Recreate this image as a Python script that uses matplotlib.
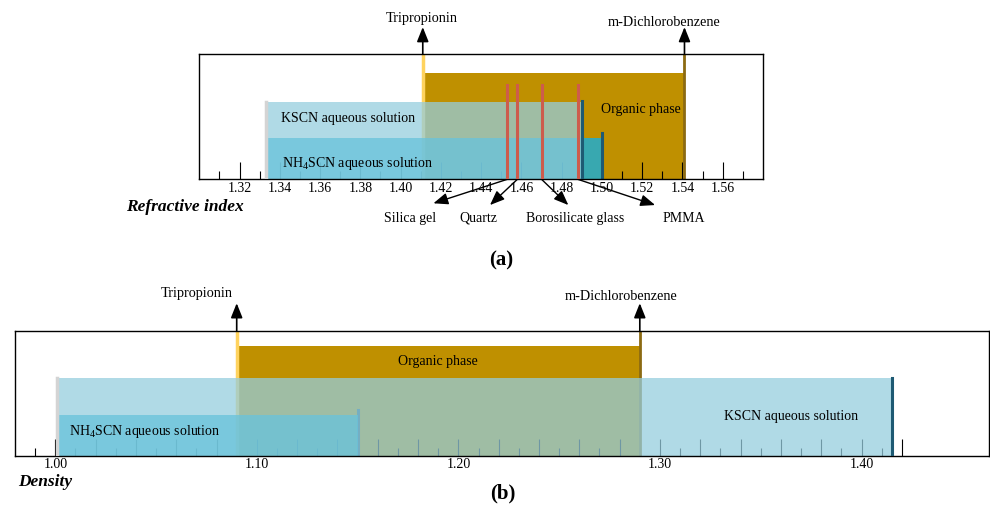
import numpy as np
import matplotlib.pyplot as plt

plt.rcParams['font.family'] = ['Liberation Serif', 'DejaVu Serif']
plt.rcParams['mathtext.fontset'] = 'custom'
plt.rcParams['mathtext.rm'] = 'Liberation Serif'

W, H = 990, 511

# (a) refractive index
ri_tripropionin = 1.411
ri_dichlorobenzene = 1.541
ri_aqueous_start = 1.333
ri_kscn_max = 1.490
ri_nh4scn_max = 1.500
materials = ['Silica gel', 'Quartz', 'Borosilicate glass', 'PMMA']
ri_materials = [1.453, 1.458, 1.470, 1.488]
ri_ticks = np.round(np.arange(1.32, 1.561, 0.02), 2)
ri_minor = np.round(np.arange(1.31, 1.571, 0.02), 2)

# (b) density
den_tripropionin = 1.090
den_dichlorobenzene = 1.290
den_aqueous_start = 1.001
den_kscn_max = 1.415
den_nh4scn_max = 1.150
den_ticks = np.round(np.arange(1.00, 1.421, 0.02), 2)
den_minor = np.round(np.arange(0.99, 1.411, 0.02), 2)
den_labels = ['%.2f' % v if round(v * 100) % 10 == 0 else '' for v in den_ticks]

ORG = '#BF9000'
KSCN = '#95CDDE'
NH4 = '#6AC3DB'
TEAL = '#38A8B0'
DARK = '#1E5A73'
NH4_LABEL = 'NH$_\\mathregular{4}$SCN aqueous solution'


def px_axes(x0, y0, x1, y1):
    return [x0 / W, 1 - y1 / H, (x1 - x0) / W, (y1 - y0) / H]


def draw_phases(ax, trip, dcb, aq0, kscn1, nh41, org_top, kscn_top, nh4_top):
    ax.axvspan(trip, dcb, 0, org_top, color=ORG, lw=0, zorder=1)
    ax.axvspan(aq0, kscn1, 0, kscn_top, color=KSCN, alpha=0.74, lw=0, zorder=2)
    ax.axvspan(aq0, min(kscn1, nh41), 0, nh4_top, color=NH4, alpha=0.78, lw=0, zorder=2.2)
    if nh41 > kscn1:
        ax.axvspan(kscn1, nh41, 0, nh4_top, color=TEAL, lw=0, zorder=1.7)
    ax.axvline(trip, 0, 1, color='#FFD35E', lw=2.5, zorder=1.8)
    ax.axvline(dcb, 0, 1, color='#8C6A12', lw=2.0, zorder=1.8)
    ax.axvline(aq0, 0, kscn_top, color='#D4D4D4', lw=2.5, zorder=4)
    ax.axvline(kscn1, 0, kscn_top + 0.005, color=DARK, lw=2.2, zorder=4)
    ax.axvline(nh41, 0, 0.366, color=DARK, lw=2.2, zorder=1.8)


def up_arrow(ax, x, tip, label, lx, ly):
    tr = ax.get_xaxis_transform()
    ax.annotate('', xy=(x, tip), xytext=(x, 1.0), xycoords=tr, textcoords=tr,
                arrowprops=dict(arrowstyle='-|>,head_length=0.55,head_width=0.22',
                                color='k', lw=1.2, mutation_scale=16,
                                shrinkA=0, shrinkB=0), annotation_clip=False)
    ax.text(lx, ly, label, transform=tr, ha='center', va='baseline', fontsize=10.3)


def style_axis(ax, major, labels, minor):
    ax.set_yticks([])
    ax.set_ylim(0, 1)
    ax.set_xticks(major)
    ax.set_xticklabels(labels)
    ax.set_xticks(minor, minor=True)
    ax.tick_params(axis='x', which='major', direction='in', length=12, width=0.8,
                   pad=2, labelsize=10)
    ax.tick_params(axis='x', which='minor', direction='in', length=6, width=0.8)
    for s in ax.spines.values():
        s.set_linewidth(1.0)


fig = plt.figure(figsize=(W / 100, H / 100), dpi=100)

# ---- panel (a)
ax1 = fig.add_axes(px_axes(199.3, 53.7, 763, 179.3))
ax1.set_xlim(1.30, 1.58)
draw_phases(ax1, ri_tripropionin, ri_dichlorobenzene, ri_aqueous_start,
            ri_kscn_max, ri_nh4scn_max, 0.844, 0.618, 0.326)
style_axis(ax1, ri_ticks, ['%.2f' % v for v in ri_ticks], ri_minor)
tr1 = ax1.get_xaxis_transform()
ax1.text(1.5194, 0.552, 'Organic phase', transform=tr1, ha='center', va='center', fontsize=10)
ax1.text(1.3406, 0.486, 'KSCN aqueous solution', transform=tr1, ha='left', va='center', fontsize=10)
ax1.text(1.3411, 0.127, NH4_LABEL, transform=tr1, ha='left', va='center', fontsize=10)
up_arrow(ax1, ri_tripropionin, 1.212, 'Tripropionin', 1.4106, 1.252)
up_arrow(ax1, ri_dichlorobenzene, 1.212, 'm-Dichlorobenzene', 1.5309, 1.221)

# materials: red lines with arrows to labels below the axis
tips = [(1.4163, -0.191), (1.4444, -0.205), (1.4833, -0.205), (1.5264, -0.205)]
label_x = [1.4049, 1.4388, 1.4868, 1.5408]
for name, v, tip, lx in zip(materials, ri_materials, tips, label_x):
    ax1.axvline(v, 0, 0.751, color='#CD5C4C', lw=2.2, zorder=5)
    ax1.annotate('', xy=tip, xytext=(v, 0.0), xycoords=tr1, textcoords=tr1,
                 arrowprops=dict(arrowstyle='-|>,head_length=0.55,head_width=0.22',
                                 color='k', lw=1.0, mutation_scale=16,
                                 shrinkA=0, shrinkB=0), annotation_clip=False)
    ax1.text(lx, -0.31, name, transform=tr1, ha='center', va='center', fontsize=10)

fig.text(184.5 / W, 1 - 207 / H, 'Refractive index', ha='center', va='center',
         fontsize=12.5, fontweight='bold', fontstyle='italic')
fig.text(501 / W, 1 - 260 / H, '(a)', ha='center', va='center', fontsize=15, fontweight='bold')

# ---- panel (b)
ax2 = fig.add_axes(px_axes(15, 330.7, 989.5, 455.7))
ax2.set_xlim(0.98, 1.4635)
draw_phases(ax2, den_tripropionin, den_dichlorobenzene, den_aqueous_start,
            den_kscn_max, den_nh4scn_max, 0.878, 0.618, 0.323)
style_axis(ax2, den_ticks, den_labels, den_minor)
tr2 = ax2.get_xaxis_transform()
ax2.text(1.19, 0.75, 'Organic phase', transform=tr2, ha='center', va='center', fontsize=10)
ax2.text(1.365, 0.312, 'KSCN aqueous solution', transform=tr2, ha='center', va='center', fontsize=10)
ax2.text(1.0066, 0.192, NH4_LABEL, transform=tr2, ha='left', va='center', fontsize=10)
up_arrow(ax2, den_tripropionin, 1.22, 'Tripropionin', 1.0703, 1.266)
up_arrow(ax2, den_dichlorobenzene, 1.22, 'm-Dichlorobenzene', 1.2807, 1.246)

fig.text(45 / W, 1 - 482 / H, 'Density', ha='center', va='center',
         fontsize=12.5, fontweight='bold', fontstyle='italic')
fig.text(503 / W, 1 - 493 / H, '(b)', ha='center', va='center', fontsize=15, fontweight='bold')

fig.savefig('out.png', dpi=100)
